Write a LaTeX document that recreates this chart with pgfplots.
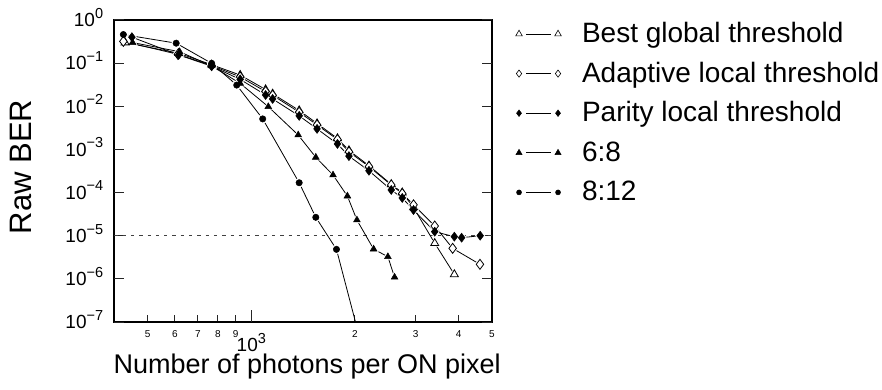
\documentclass[border=0pt]{standalone}
\usepackage{fontspec}
\setmainfont{Liberation Sans}
\usepackage{pgfplots}
\usepackage{pgfplotstable}
\pgfplotsset{compat=1.18}

\newcommand{\tenpow}[1]{10\raisebox{8.4pt}{\fontsize{14.5}{15}\selectfont #1}}

\pgfplotstableread{
x y
430 0.30
615 0.17
767 0.092
928 0.053
1100 0.0245
1153 0.0195
1377 0.0080
1552 0.0040
1779 0.0018
1921 0.00095
2196 0.00042
2549 0.000155
2743 0.0001
2958 0.000045
3409 6.7e-6
3887 1.27e-6
}\bestglobal

\pgfplotstableread{
x y
425 0.32
612 0.16
767 0.088
928 0.048
1100 0.022
1153 0.018
1377 0.0073
1552 0.0037
1779 0.0017
1921 0.00088
2196 0.0004
2549 0.00015
2743 0.000095
2958 0.000052
3409 1.68e-5
3843 5.1e-6
4613 2.17e-6
}\adaptive

\pgfplotstableread{
x y
450 0.40
615 0.155
767 0.085
928 0.042
1100 0.0183
1153 0.0148
1377 0.006
1552 0.003
1779 0.00134
1921 0.0007
2196 0.00032
2549 0.000115
2743 0.000075
2958 0.0000394
3409 1.24e-5
3887 9.5e-6
4080 9.0e-6
4620 1.0e-5
}\parity

\pgfplotstableread{
x y
452 0.30
619 0.184
767 0.086
928 0.034
1120 0.0098
1368 0.00216
1539 6.57e-4
1727 2.55e-4
1901 8.3e-5
2026 2.31e-5
2265 4.9e-6
2492 3.26e-6
2606 1.09e-6
}\sixeight

\pgfplotstableread{
x y
425 0.46
605 0.29
767 0.099
907 0.031
1079 0.0051
1377 1.69e-4
1539 2.67e-5
1767 4.83e-6
}\eighttwelve

\begin{document}
\begin{tikzpicture}[x=1pt,y=1pt]
\useasboundingbox (0,0) rectangle (882,390);
\begin{axis}[
  at={(114.3pt,68pt)}, anchor=south west,
  scale only axis, width=377.7pt, height=302pt,
  xmode=log, ymode=log,
  xmin=400, xmax=5000, ymin=1e-7, ymax=1,
  axis line style={line width=1.8pt},
  tick align=inside,
  xminorticks=false, yminorticks=false,
  xtick pos=left, ytick pos=both, yticklabel pos=left,
  tick style={line width=1pt, black!85},
  major tick length=7pt,
  xtick={500,600,700,800,900,2000,3000,4000,5000},
  xticklabels={5,6,7,8,9,2,3,4,5},
  xticklabel style={anchor=base, inner sep=0pt, yshift=-15pt, font=\fontsize{10}{12}\selectfont},
  extra x ticks={1000},
  extra x tick labels={\tenpow{3}},
  extra x tick style={major tick length=12pt,
     every x tick label/.style={anchor=base, inner sep=0pt, yshift=-29.7pt, font=\fontsize{19}{22}\selectfont}},
  ytick=\empty,
  extra y ticks={1e-7,1e-6,1e-5,1e-4,1e-3,1e-2,1e-1,1},
  extra y tick labels={\tenpow{−7},\tenpow{−6},\tenpow{−5},\tenpow{−4},\tenpow{−3},\tenpow{−2},\tenpow{−1},\tenpow{0}},
  extra y tick style={major tick length=10pt},
  yticklabel style={anchor=base east, inner sep=0pt, xshift=-11pt, yshift=-6.8pt, font=\fontsize{19}{22}\selectfont},
  xlabel={Number of photons per ON pixel},
  every axis x label/.style={at={(rel axis cs:0.5,0)}, anchor=base, xshift=4pt, yshift=-51pt, font=\fontsize{27}{30}\selectfont},
  ylabel={Raw BER},
  every axis y label/.style={at={(rel axis cs:0,0.5)}, anchor=center, xshift=-93.3pt, yshift=4pt, rotate=90, font=\fontsize{31}{34}\selectfont},
  legend cell align=left,
  legend image code/.code={
    \draw[black, line width=0.8pt] (7pt,1.5pt) -- (32pt,1.5pt);
    \draw[#1] plot coordinates {(0pt,1.5pt) (39pt,1.5pt)};
  },
  legend style={at={(rel axis cs:1.0628,0.9917)}, anchor=north west, draw=none, fill=none,
    inner sep=0pt, outer sep=0pt, column sep=20.7pt, row sep=13.6pt,
    font=\fontsize{28}{30}\selectfont,
    nodes={inner sep=0pt, text height=20pt, text depth=6pt}},
]
% reference line
\addplot[forget plot, black!75, line width=0.8pt, dash pattern=on 3.3pt off 5pt] coordinates {(400,1e-5) (5000,1e-5)};

% lines
\addplot[forget plot, black, line width=0.8pt] table {\bestglobal};
\addplot[forget plot, black, line width=0.8pt] table {\adaptive};
\addplot[forget plot, black, line width=0.8pt] table {\parity};
\addplot[forget plot, black, line width=0.8pt] table {\sixeight};
\addplot[forget plot, black, line width=0.8pt] table {\eighttwelve};
\addplot[forget plot, black, line width=0.8pt] coordinates {(1767,4.83e-6) (2100,2.5e-8)};

% halos
\addplot[forget plot, only marks, mark=triangle*, mark size=6.3pt, mark options={draw=white, fill=white}] table {\bestglobal};
\addplot[forget plot, only marks, mark=diamond*, mark size=6.8pt, mark options={draw=white, fill=white}] table {\adaptive};
\addplot[forget plot, only marks, mark=diamond*, mark size=6.2pt, mark options={draw=white, fill=white}] table {\parity};
\addplot[forget plot, only marks, mark=triangle*, mark size=5.6pt, mark options={draw=white, fill=white}] table {\sixeight};
\addplot[forget plot, only marks, mark=*, mark size=4.6pt, mark options={draw=white, fill=white}] table {\eighttwelve};

% marks
\addplot[only marks, mark=triangle*, mark size=4.6pt, mark options={draw=black, fill=white, line width=0.8pt}, legend image post style={mark size=3.8pt, mark options={draw=black, fill=white, line width=0.6pt}}] table {\bestglobal};
\addlegendentry{Best global threshold}
\addplot[only marks, mark=diamond*, mark size=5pt, mark options={draw=black, fill=white, line width=0.8pt}, legend image post style={mark size=3.6pt, mark options={draw=black, fill=white, line width=0.6pt}}] table {\adaptive};
\addlegendentry{Adaptive local threshold}
\addplot[only marks, mark=diamond*, mark size=4.5pt, mark options={draw=black, fill=black, line width=0.5pt}, legend image post style={mark size=3.3pt}] table {\parity};
\addlegendentry{Parity local threshold}
\addplot[only marks, mark=triangle*, mark size=3.9pt, mark options={draw=black, fill=black, line width=0.5pt}, legend image post style={mark size=3.5pt}] table {\sixeight};
\addlegendentry{6:8}
\addplot[only marks, mark=*, mark size=3.2pt, mark options={draw=black, fill=black, line width=0.5pt}, legend image post style={mark size=2.5pt}] table {\eighttwelve};
\addlegendentry{8:12}
\end{axis}
\end{tikzpicture}
\end{document}
